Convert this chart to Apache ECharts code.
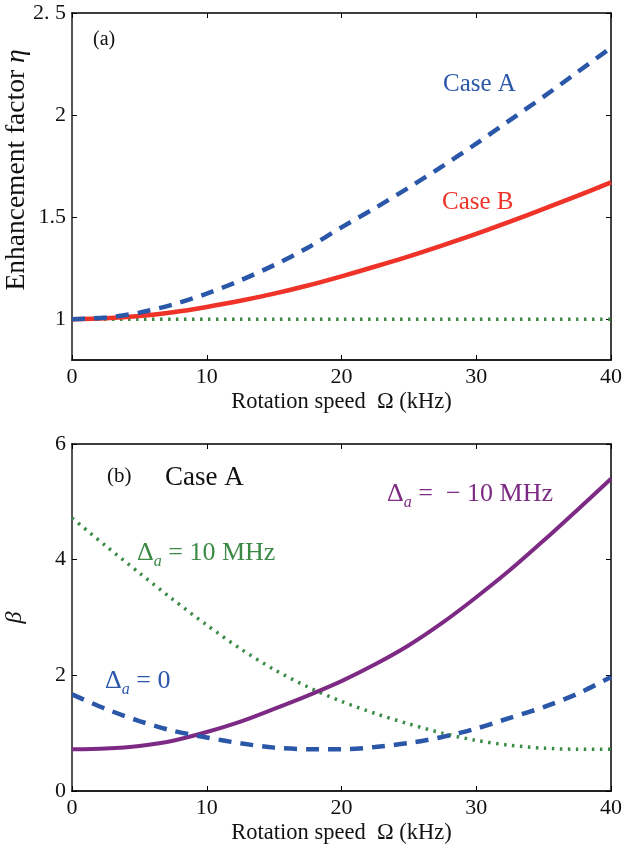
<!DOCTYPE html>
<html>
<head>
<meta charset="utf-8">
<script src="https://cdn.jsdelivr.net/npm/echarts@6/dist/echarts.min.js"></script>
<style>html,body{margin:0;padding:0;background:#fff}#c{width:622px;height:848px}</style>
</head>
<body>
<div id="c"></div>
<script>
// ---- data ----
const omega = [0, 2.5, 5, 7.5, 10, 12.5, 15, 17.5, 20, 22.5, 25, 27.5, 30, 32.5, 35, 37.5, 40];
// panel (a): enhancement factor
const etaCaseA = [1.0, 1.008, 1.032, 1.072, 1.125, 1.19, 1.265, 1.35, 1.45, 1.545, 1.645, 1.75, 1.86, 1.975, 2.09, 2.21, 2.33];
const etaCaseB = [1.0, 1.004, 1.015, 1.034, 1.06, 1.09, 1.125, 1.165, 1.21, 1.258, 1.308, 1.362, 1.418, 1.478, 1.54, 1.604, 1.67];
const etaRef   = [1, 1, 1, 1, 1, 1, 1, 1, 1, 1, 1, 1, 1, 1, 1, 1, 1];
// panel (b): beta, Case A
const betaMinus10 = [0.72, 0.735, 0.78, 0.87, 1.02, 1.2, 1.42, 1.65, 1.9, 2.19, 2.52, 2.91, 3.35, 3.82, 4.33, 4.86, 5.4];
const betaZero    = [1.67, 1.42, 1.21, 1.04, 0.925, 0.825, 0.75, 0.722, 0.72, 0.76, 0.83, 0.935, 1.08, 1.265, 1.45, 1.68, 1.97];
const betaPlus10  = [4.72, 4.24, 3.77, 3.31, 2.87, 2.46, 2.1, 1.8, 1.55, 1.34, 1.16, 1.0, 0.875, 0.79, 0.74, 0.722, 0.72];
// ticks
const xTicks = [0, 10, 20, 30, 40];
const yTicksA = [1, 1.5, 2, 2.5];
const yTickLabelsA = ['1', '1.5', '2', '2. 5'];
const yTicksB = [0, 2, 4, 6];

const FONT = '"Liberation Serif", "DejaVu Serif", serif';
const C_BLUE = '#2b57a9', C_RED = '#ef3328', C_GREEN = '#3b8a46', C_PURPLE = '#7c2a83';

function pairs(xs, ys) { return xs.map((x, i) => [x, ys[i]]); }

const chart = echarts.init(document.getElementById('c'), null, {renderer: 'canvas'});

const grids = [
  {left: 72, top: 13, width: 539, height: 347, outerBoundsMode: 'none', containLabel: false},
  {left: 72, top: 444, width: 539, height: 347, outerBoundsMode: 'none', containLabel: false}
];

function bottomX(gi) {
  return {
    type: 'value', gridIndex: gi, min: 0, max: 40, interval: 10, position: 'bottom',
    axisLine: {show: true, onZero: false, lineStyle: {color: '#222', width: 2}},
    axisTick: {show: true, inside: true, length: 5, customValues: xTicks, lineStyle: {color: '#000', width: 1}},
    axisLabel: {show: true, customValues: xTicks, fontFamily: FONT, fontSize: 22, color: '#111', margin: 6},
    splitLine: {show: false},
    name: 'Rotation speed  Ω (kHz)', nameLocation: 'middle', nameGap: 31, nameMoveOverlap: false,
    nameTextStyle: {fontFamily: FONT, fontSize: 22.5, color: '#111'}
  };
}
function topX(gi) {
  return {
    type: 'value', gridIndex: gi, min: 0, max: 40, interval: 10, position: 'top',
    axisLine: {show: true, onZero: false, lineStyle: {color: '#000', width: 1.5}},
    axisTick: {show: true, inside: true, length: 5, customValues: xTicks, lineStyle: {color: '#000', width: 1}},
    axisLabel: {show: false}, splitLine: {show: false}
  };
}
function rightY(gi, min, max, ticks) {
  return {
    type: 'value', gridIndex: gi, min: min, max: max, position: 'right',
    axisLine: {show: true, onZero: false, lineStyle: {color: '#000', width: 1.5}},
    axisTick: {show: true, inside: true, length: 5, customValues: ticks, lineStyle: {color: '#000', width: 1}},
    axisLabel: {show: false}, splitLine: {show: false}
  };
}
function deltaLabel(x, y, rest, color) {
  return {type: 'text', x: x, y: y, style: {
    text: '{d|Δ}{s|a}{n|' + rest + '}', textVerticalAlign: 'middle',
    rich: {d: {fontFamily: FONT, fontSize: 26, fill: color, verticalAlign: 'bottom'},
           s: {fontFamily: FONT, fontSize: 16, fontStyle: 'italic', fill: color, verticalAlign: 'bottom', padding: [0, 0, -4, 0]},
           n: {fontFamily: FONT, fontSize: 26, fill: color, verticalAlign: 'bottom'}}}};
}

const option = {
  backgroundColor: '#fff',
  animation: false,
  grid: grids,
  xAxis: [bottomX(0), topX(0), bottomX(1), topX(1)],
  yAxis: [
    {
      type: 'value', gridIndex: 0, min: 0.8, max: 2.5, position: 'left',
      axisLine: {show: true, onZero: false, lineStyle: {color: '#555', width: 2}},
      axisTick: {show: true, inside: true, length: 5, customValues: yTicksA, lineStyle: {color: '#000', width: 1}},
      axisLabel: {show: true, customValues: yTicksA, formatter: v => yTickLabelsA[yTicksA.indexOf(v)],
        fontFamily: FONT, fontSize: 22, color: '#111', margin: 6},
      splitLine: {show: false}
    },
    rightY(0, 0.8, 2.5, yTicksA),
    {
      type: 'value', gridIndex: 1, min: 0, max: 6, interval: 2, position: 'left',
      axisLine: {show: true, onZero: false, lineStyle: {color: '#555', width: 2}},
      axisTick: {show: true, inside: true, length: 5, customValues: yTicksB, lineStyle: {color: '#000', width: 1}},
      axisLabel: {show: true, customValues: yTicksB, fontFamily: FONT, fontSize: 22, color: '#111', margin: 6},
      splitLine: {show: false},
      name: 'β', nameLocation: 'middle', nameGap: 45, nameRotate: 90, nameMoveOverlap: false,
      nameTextStyle: {fontFamily: FONT, fontSize: 24, fontStyle: 'italic', color: '#111'}
    },
    rightY(1, 0, 6, yTicksB)
  ],
  series: [
    {type: 'line', xAxisIndex: 0, yAxisIndex: 0, data: pairs(omega, etaRef), showSymbol: false, smooth: 0.3,
      lineStyle: {color: C_GREEN, width: 3.5, type: [2.5, 5.5]}, z: 2},
    {type: 'line', xAxisIndex: 0, yAxisIndex: 0, data: pairs(omega, etaCaseB), showSymbol: false, smooth: 0.3,
      lineStyle: {color: C_RED, width: 4.5, type: 'solid'}, z: 3},
    {type: 'line', xAxisIndex: 0, yAxisIndex: 0, data: pairs(omega, etaCaseA), showSymbol: false, smooth: 0.3,
      lineStyle: {color: C_BLUE, width: 4.5, type: [13, 9]}, z: 4},
    {type: 'line', xAxisIndex: 2, yAxisIndex: 2, data: pairs(omega, betaPlus10), showSymbol: false, smooth: 0.3,
      lineStyle: {color: C_GREEN, width: 3.5, type: [2.5, 5.5]}, z: 2},
    {type: 'line', xAxisIndex: 2, yAxisIndex: 2, data: pairs(omega, betaMinus10), showSymbol: false, smooth: 0.3,
      lineStyle: {color: C_PURPLE, width: 4, type: 'solid'}, z: 3},
    {type: 'line', xAxisIndex: 2, yAxisIndex: 2, data: pairs(omega, betaZero), showSymbol: false, smooth: 0.3,
      lineStyle: {color: C_BLUE, width: 4.5, type: [13, 9]}, z: 4}
  ],
  graphic: [
    {type: 'text', x: 17, y: 170, rotation: Math.PI / 2, style: {
      text: '{t|Enhancement factor }{i|η}', textAlign: 'center', textVerticalAlign: 'middle',
      rich: {t: {fontFamily: FONT, fontSize: 27.5, fill: '#111'}, i: {fontFamily: FONT, fontSize: 27.5, fontStyle: 'italic', fill: '#111'}}}},
    {type: 'text', x: 93, y: 40, style: {text: '(a)', font: '20px ' + FONT, fill: '#111', textVerticalAlign: 'middle'}},
    {type: 'text', x: 443, y: 84, style: {text: 'Case A', font: '25px ' + FONT, fill: C_BLUE, textVerticalAlign: 'middle'}},
    {type: 'text', x: 442, y: 202, style: {text: 'Case B', font: '25px ' + FONT, fill: C_RED, textVerticalAlign: 'middle'}},
    {type: 'text', x: 107, y: 476, style: {text: '(b)', font: '21px ' + FONT, fill: '#111', textVerticalAlign: 'middle'}},
    {type: 'text', x: 165, y: 478, style: {text: 'Case A', font: '27px ' + FONT, fill: '#111', textVerticalAlign: 'middle'}},
    deltaLabel(387, 494, ' =  − 10 MHz', C_PURPLE),
    deltaLabel(137, 553, ' = 10 MHz', C_GREEN),
    deltaLabel(105, 681, ' = 0', C_BLUE)
  ]
};
chart.setOption(option);
</script>
</body>
</html>
